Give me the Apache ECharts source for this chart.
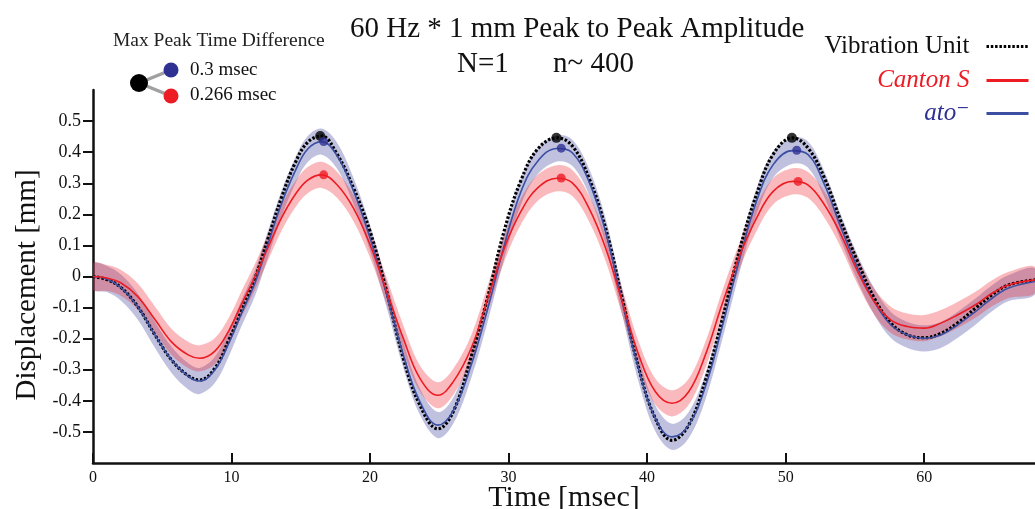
<!DOCTYPE html>
<html>
<head>
<meta charset="utf-8">
<script src="https://cdn.jsdelivr.net/npm/echarts@6/dist/echarts.min.js"></script>
<style>
  html, body { margin: 0; background: #fff; }
  #chart { width: 1035px; height: 509px; }
</style>
</head>
<body>
<div id="chart"></div>
<script>
// sample times (msec), shared by the three traces
const timeMs = [0, 1, 2, 3.2, 4.5, 5.7, 6.9, 7.7, 8.8, 9.8,
  10.7, 11.7, 12.6, 13.6, 14.6, 15.5, 16.5, 17.6, 18.8, 20.0,
  21.2, 22.4, 23.6, 24.9, 26.0, 27.3, 28.5, 29.7, 30.9, 32.1,
  33.5, 34.6, 35.8, 37.0, 38.2, 39.4, 40.6, 41.8, 43.0, 44.2,
  45.4, 46.7, 47.9, 49.1, 50.5, 51.6, 52.8, 54.0, 55.2, 56.4,
  57.6, 58.8, 60.0, 61.2, 62.4, 63.7, 64.9, 66.1, 68.0];

// displacement (mm)
const vibrationUnit = [0, -0.01, -0.035, -0.095, -0.19, -0.27, -0.32, -0.333, -0.295, -0.205,
  -0.113, -0.005, 0.118, 0.253, 0.366, 0.432, 0.452, 0.395, 0.285, 0.145,
  -0.048, -0.263, -0.414, -0.49, -0.435, -0.258, -0.065, 0.15, 0.31, 0.41,
  0.446, 0.42, 0.317, 0.156, -0.07, -0.296, -0.457, -0.527, -0.478, -0.335,
  -0.142, 0.09, 0.264, 0.393, 0.446, 0.414, 0.317, 0.177, 0.048, -0.07,
  -0.15, -0.188, -0.197, -0.183, -0.15, -0.102, -0.059, -0.027, -0.011];

const cantonS = [0, -0.005, -0.02, -0.063, -0.14, -0.212, -0.253, -0.263, -0.24, -0.175,
  -0.091, 0.0, 0.09, 0.188, 0.264, 0.31, 0.327, 0.296, 0.22, 0.102,
  -0.048, -0.199, -0.328, -0.382, -0.339, -0.231, -0.07, 0.092, 0.21, 0.285,
  0.316, 0.301, 0.22, 0.092, -0.081, -0.253, -0.371, -0.408, -0.371, -0.253,
  -0.091, 0.07, 0.188, 0.274, 0.306, 0.295, 0.231, 0.134, 0.016, -0.081,
  -0.14, -0.161, -0.166, -0.15, -0.124, -0.091, -0.054, -0.027, -0.011];

const atoMinus = [0, -0.008, -0.035, -0.095, -0.19, -0.27, -0.322, -0.336, -0.3, -0.215,
  -0.12, -0.02, 0.1, 0.233, 0.34, 0.41, 0.434, 0.39, 0.276, 0.124,
  -0.058, -0.252, -0.403, -0.478, -0.432, -0.285, -0.102, 0.102, 0.274, 0.371,
  0.412, 0.398, 0.306, 0.145, -0.081, -0.3, -0.457, -0.516, -0.478, -0.355,
  -0.165, 0.06, 0.242, 0.36, 0.405, 0.393, 0.296, 0.156, 0.027, -0.081,
  -0.156, -0.188, -0.199, -0.188, -0.156, -0.113, -0.07, -0.037, -0.016];

// half width of the shaded spread (mm)
const cantonSpread = 0.042;
const atoSpread = 0.042;

// peak markers [msec, mm]
const vibrationPeaks = [[16.4, 0.452], [33.45, 0.446], [50.45, 0.446]];
const atoPeaks = [[16.65, 0.434], [33.8, 0.413], [50.8, 0.406]];
const cantonPeaks = [[16.65, 0.327], [33.8, 0.317], [50.9, 0.306]];

const xTicks = [0, 10, 20, 30, 40, 50, 60];
const yTicks = [-0.5, -0.4, -0.3, -0.2, -0.1, 0, 0.1, 0.2, 0.3, 0.4, 0.5];

const SERIF = '"Liberation Serif", "DejaVu Serif", serif';
const RED = '#ed1c24';
const BLUE = '#3b4fa3';
const NAVY = '#2e3192';

const pairs = vals => timeMs.map((t, i) => [t, vals[i]]);

// spread drawn as one closed shape: upper edge, then lower edge backwards
function band(vals, spread, color, opacity) {
  return {
    type: 'custom', coordinateSystem: 'cartesian2d', silent: true, z: 1, clip: true,
    data: [[timeMs[0], vals[0]]],
    renderItem: (params, api) => {
      const upper = timeMs.map((t, i) => api.coord([t, vals[i] + spread]));
      const lower = timeMs.map((t, i) => api.coord([t, vals[i] - spread])).reverse();
      return {
        type: 'polygon',
        shape: { points: upper.concat(lower), smooth: 0.35 },
        style: { fill: color, opacity: opacity }
      };
    }
  };
}

const chart = echarts.init(document.getElementById('chart'));

const legendBase = {
  orient: 'vertical', right: 5, padding: 0, align: 'right', itemWidth: 42, itemHeight: 14,
  selectedMode: false, lineStyle: { width: 3 }, itemStyle: { opacity: 0 }
};
const legendText = (color, style) => ({
  fontFamily: SERIF, fontSize: 25, color: color, fontStyle: style, padding: [0, 12, 0, 0]
});

const titleText = { fontFamily: SERIF, fontSize: 29, fontWeight: 'normal', color: '#111' };

const option = {
  animation: false,
  title: [
    { text: '60 Hz * 1 mm Peak to Peak Amplitude', left: 345, top: 10, textStyle: titleText },
    { text: 'N=1', left: 452, top: 45, textStyle: titleText },
    { text: 'n~ 400', left: 548, top: 45, textStyle: titleText }
  ],
  legend: [
    Object.assign({}, legendBase, { top: 34, data: [{ name: 'Vibration Unit' }],
      textStyle: legendText('#111', 'normal') }),
    Object.assign({}, legendBase, { top: 68, data: [{ name: 'Canton S' }],
      textStyle: legendText(RED, 'italic') }),
    Object.assign({}, legendBase, { top: 101, data: [{ name: 'ato⁻' }],
      textStyle: legendText(NAVY, 'italic') })
  ],
  graphic: [
    { type: 'text', x: 113, y: 41, style: { text: 'Max Peak Time Difference', font: '19.5px ' + SERIF, fill: '#222', verticalAlign: 'middle' } },
    { type: 'line', z: 10, shape: { x1: 139, y1: 83, x2: 171, y2: 70 }, style: { stroke: '#a0a0a0', lineWidth: 3.5 } },
    { type: 'line', z: 10, shape: { x1: 139, y1: 83, x2: 171, y2: 96 }, style: { stroke: '#a0a0a0', lineWidth: 3.5 } },
    { type: 'circle', z: 11, shape: { cx: 139, cy: 83, r: 9 }, style: { fill: '#000' } },
    { type: 'circle', z: 11, shape: { cx: 171, cy: 70, r: 7.5 }, style: { fill: NAVY } },
    { type: 'circle', z: 11, shape: { cx: 171, cy: 96, r: 7.5 }, style: { fill: RED } },
    { type: 'text', x: 190, y: 70, style: { text: '0.3 msec', font: '19px ' + SERIF, fill: '#111', verticalAlign: 'middle' } },
    { type: 'text', x: 190, y: 95, style: { text: '0.266 msec', font: '19px ' + SERIF, fill: '#111', verticalAlign: 'middle' } },
    { type: 'text', x: 27, y: 285, rotation: Math.PI / 2,
      style: { text: 'Displacement [mm]', font: '29px ' + SERIF, fill: '#111', align: 'center', verticalAlign: 'middle' } }
  ],
  grid: { left: 93, right: 0, top: 90, bottom: 46, outerBoundsMode: 'none' },
  xAxis: {
    type: 'value', min: 0, max: 68,
    name: 'Time [msec]', nameLocation: 'middle', nameGap: 20, nameMoveOverlap: false,
    nameTextStyle: { fontFamily: SERIF, fontSize: 30, color: '#111' },
    axisLine: { onZero: false, lineStyle: { color: '#111', width: 2.5 } },
    axisTick: { inside: true, length: 10, customValues: xTicks, lineStyle: { color: '#111', width: 2 } },
    axisLabel: { customValues: xTicks, fontFamily: SERIF, fontSize: 16, color: '#111', margin: 7 },
    splitLine: { show: false }
  },
  yAxis: {
    type: 'value', min: -0.6, max: 0.6,
    axisLine: { show: true, onZero: false, lineStyle: { color: '#111', width: 2.5 } },
    axisTick: { show: true, length: 10, customValues: yTicks, lineStyle: { color: '#111', width: 2 } },
    axisLabel: { customValues: yTicks, fontFamily: SERIF, fontSize: 18, color: '#111', margin: 12 },
    splitLine: { show: false }
  },
  series: [
    band(atoMinus, atoSpread, '#3a3f9a', 0.32),
    band(cantonS, cantonSpread, RED, 0.3),
    {
      name: 'Vibration Unit', type: 'line', smooth: 0.4, symbol: 'none', z: 3,
      data: pairs(vibrationUnit),
      lineStyle: { color: '#000', width: 3.2, type: [2.5, 1.8] }, itemStyle: { color: '#000' }
    },
    {
      name: 'ato⁻', type: 'line', smooth: 0.4, symbol: 'none', z: 4,
      data: pairs(atoMinus),
      lineStyle: { color: BLUE, width: 1.6 }, itemStyle: { color: BLUE }
    },
    {
      name: 'Canton S', type: 'line', smooth: 0.4, symbol: 'none', z: 5,
      data: pairs(cantonS),
      lineStyle: { color: RED, width: 1.6 }, itemStyle: { color: RED }
    },
    { type: 'scatter', data: vibrationPeaks, symbolSize: 10, itemStyle: { color: '#000' }, z: 6, silent: true },
    { type: 'scatter', data: atoPeaks, symbolSize: 9, itemStyle: { color: NAVY }, z: 6, silent: true },
    { type: 'scatter', data: cantonPeaks, symbolSize: 9, itemStyle: { color: RED }, z: 6, silent: true }
  ]
};

chart.setOption(option);
</script>
</body>
</html>
